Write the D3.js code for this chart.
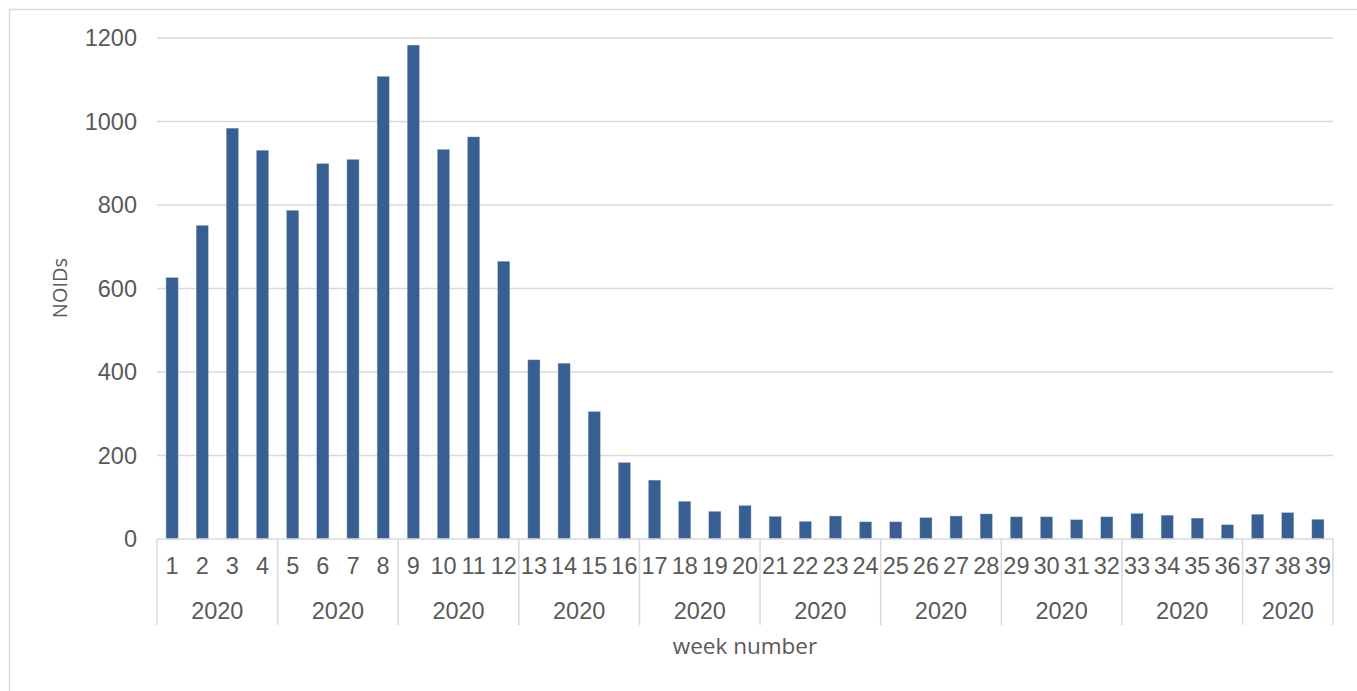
<!DOCTYPE html>
<html>
<head>
<meta charset="utf-8">
<script src="https://cdn.jsdelivr.net/npm/d3@7"></script>
<style>
  html, body { margin: 0; padding: 0; background: #fff; }
  svg { display: block; }
</style>
</head>
<body>
<svg id="chart" width="1357" height="691"></svg>
<script>
const weeks = d3.range(1, 40).map(String);
const values = [626, 751, 984, 931, 787, 899, 909, 1108, 1183, 933, 963, 665,
                429, 421, 305, 183, 141, 90, 66, 80, 54, 42, 55, 41, 41, 51, 55,
                60, 53, 53, 46, 53, 61, 57, 50, 34, 59, 63, 47];
const groupSizes = [4, 4, 4, 4, 4, 4, 4, 4, 4, 3];
const groupLabels = ["2020", "2020", "2020", "2020", "2020", "2020", "2020", "2020", "2020", "2020"];
const yTicks = [0, 200, 400, 600, 800, 1000, 1200];
const yTitle = "NOIDs";
const xTitle = "week number";

(function () {
const svg = d3.select("#chart");
const W = 1357, H = 691;
const mLeft = 157, mRight = 1333, mTop = 38, mBottom = 539;
const textColor = "#595959";
const gridColor = "#d9d9d9";
const font = "'Liberation Sans', Arial, sans-serif";
const titleFont = "'Open Sans', 'Noto Sans', sans-serif";
const fs = "23.5px";

// outer border
svg.append("rect").attr("x", 9.5).attr("y", 9.5).attr("width", W + 10).attr("height", H + 10)
  .attr("fill", "#fff").attr("stroke", gridColor).attr("stroke-width", 1.5);

const x = d3.scaleBand().domain(weeks).range([mLeft, mRight]).paddingInner(0.6).paddingOuter(0.3);
const y = d3.scaleLinear().domain([0, 1200]).range([mBottom, mTop]);

// gridlines
svg.append("g").selectAll("line").data(yTicks.filter(d => d > 0)).join("line")
  .attr("x1", mLeft).attr("x2", mRight)
  .attr("y1", d => y(d)).attr("y2", d => y(d))
  .attr("stroke", gridColor).attr("stroke-width", 1.5);

// y axis labels
const yAxis = d3.axisLeft(y).tickValues(yTicks).tickFormat(d3.format("d")).tickSize(0).tickPadding(20);
const gy = svg.append("g").attr("transform", `translate(${mLeft},0)`).call(yAxis);
gy.select(".domain").remove();
gy.selectAll("text").attr("fill", textColor).style("font-family", font).style("font-size", fs);

// bars
svg.append("g").selectAll("rect").data(values).join("rect")
  .attr("x", (d, i) => x(weeks[i]))
  .attr("width", x.bandwidth())
  .attr("y", d => y(d))
  .attr("height", d => mBottom - y(d))
  .attr("fill", "#375f91")
  .attr("stroke", "#9fb3cd").attr("stroke-width", 0.4);

// x axis line
svg.append("line").attr("x1", mLeft).attr("x2", mRight).attr("y1", mBottom).attr("y2", mBottom)
  .attr("stroke", gridColor).attr("stroke-width", 1.5);

// week labels via axis
const xAxis = d3.axisBottom(x).tickSize(0).tickPadding(18);
const gx = svg.append("g").attr("transform", `translate(0,${mBottom})`).call(xAxis);
gx.select(".domain").remove();
gx.selectAll("text").attr("fill", textColor).style("font-family", font).style("font-size", fs);

// group separators and labels
const step = x.step();
let idx = 0;
const seps = [mLeft];
const groupCenters = [];
groupSizes.forEach(n => {
  const start = x(weeks[idx]) - x.paddingInner() * step / 2;
  idx += n;
  const end = idx < weeks.length ? x(weeks[idx]) - x.paddingInner() * step / 2 : mRight;
  seps.push(end);
  groupCenters.push((start + end) / 2);
});
svg.append("g").selectAll("line").data(seps).join("line")
  .attr("x1", d => d).attr("x2", d => d).attr("y1", mBottom).attr("y2", 625)
  .attr("stroke", gridColor).attr("stroke-width", 1.5);

svg.append("g").selectAll("text").data(groupLabels).join("text")
  .attr("x", (d, i) => groupCenters[i]).attr("y", 619)
  .attr("text-anchor", "middle").attr("fill", textColor)
  .style("font-family", font).style("font-size", fs).text(d => d);

// axis titles
svg.append("text").attr("x", (mLeft + mRight) / 2).attr("y", 654)
  .attr("text-anchor", "middle").attr("fill", textColor)
  .style("font-family", titleFont).style("font-size", "22.5px").text(xTitle);

svg.append("text").attr("transform", `translate(67,288) rotate(-90)`)
  .attr("text-anchor", "middle").attr("fill", textColor)
  .style("font-family", titleFont).style("font-size", "20px").text(yTitle);
})();
</script>
</body>
</html>
